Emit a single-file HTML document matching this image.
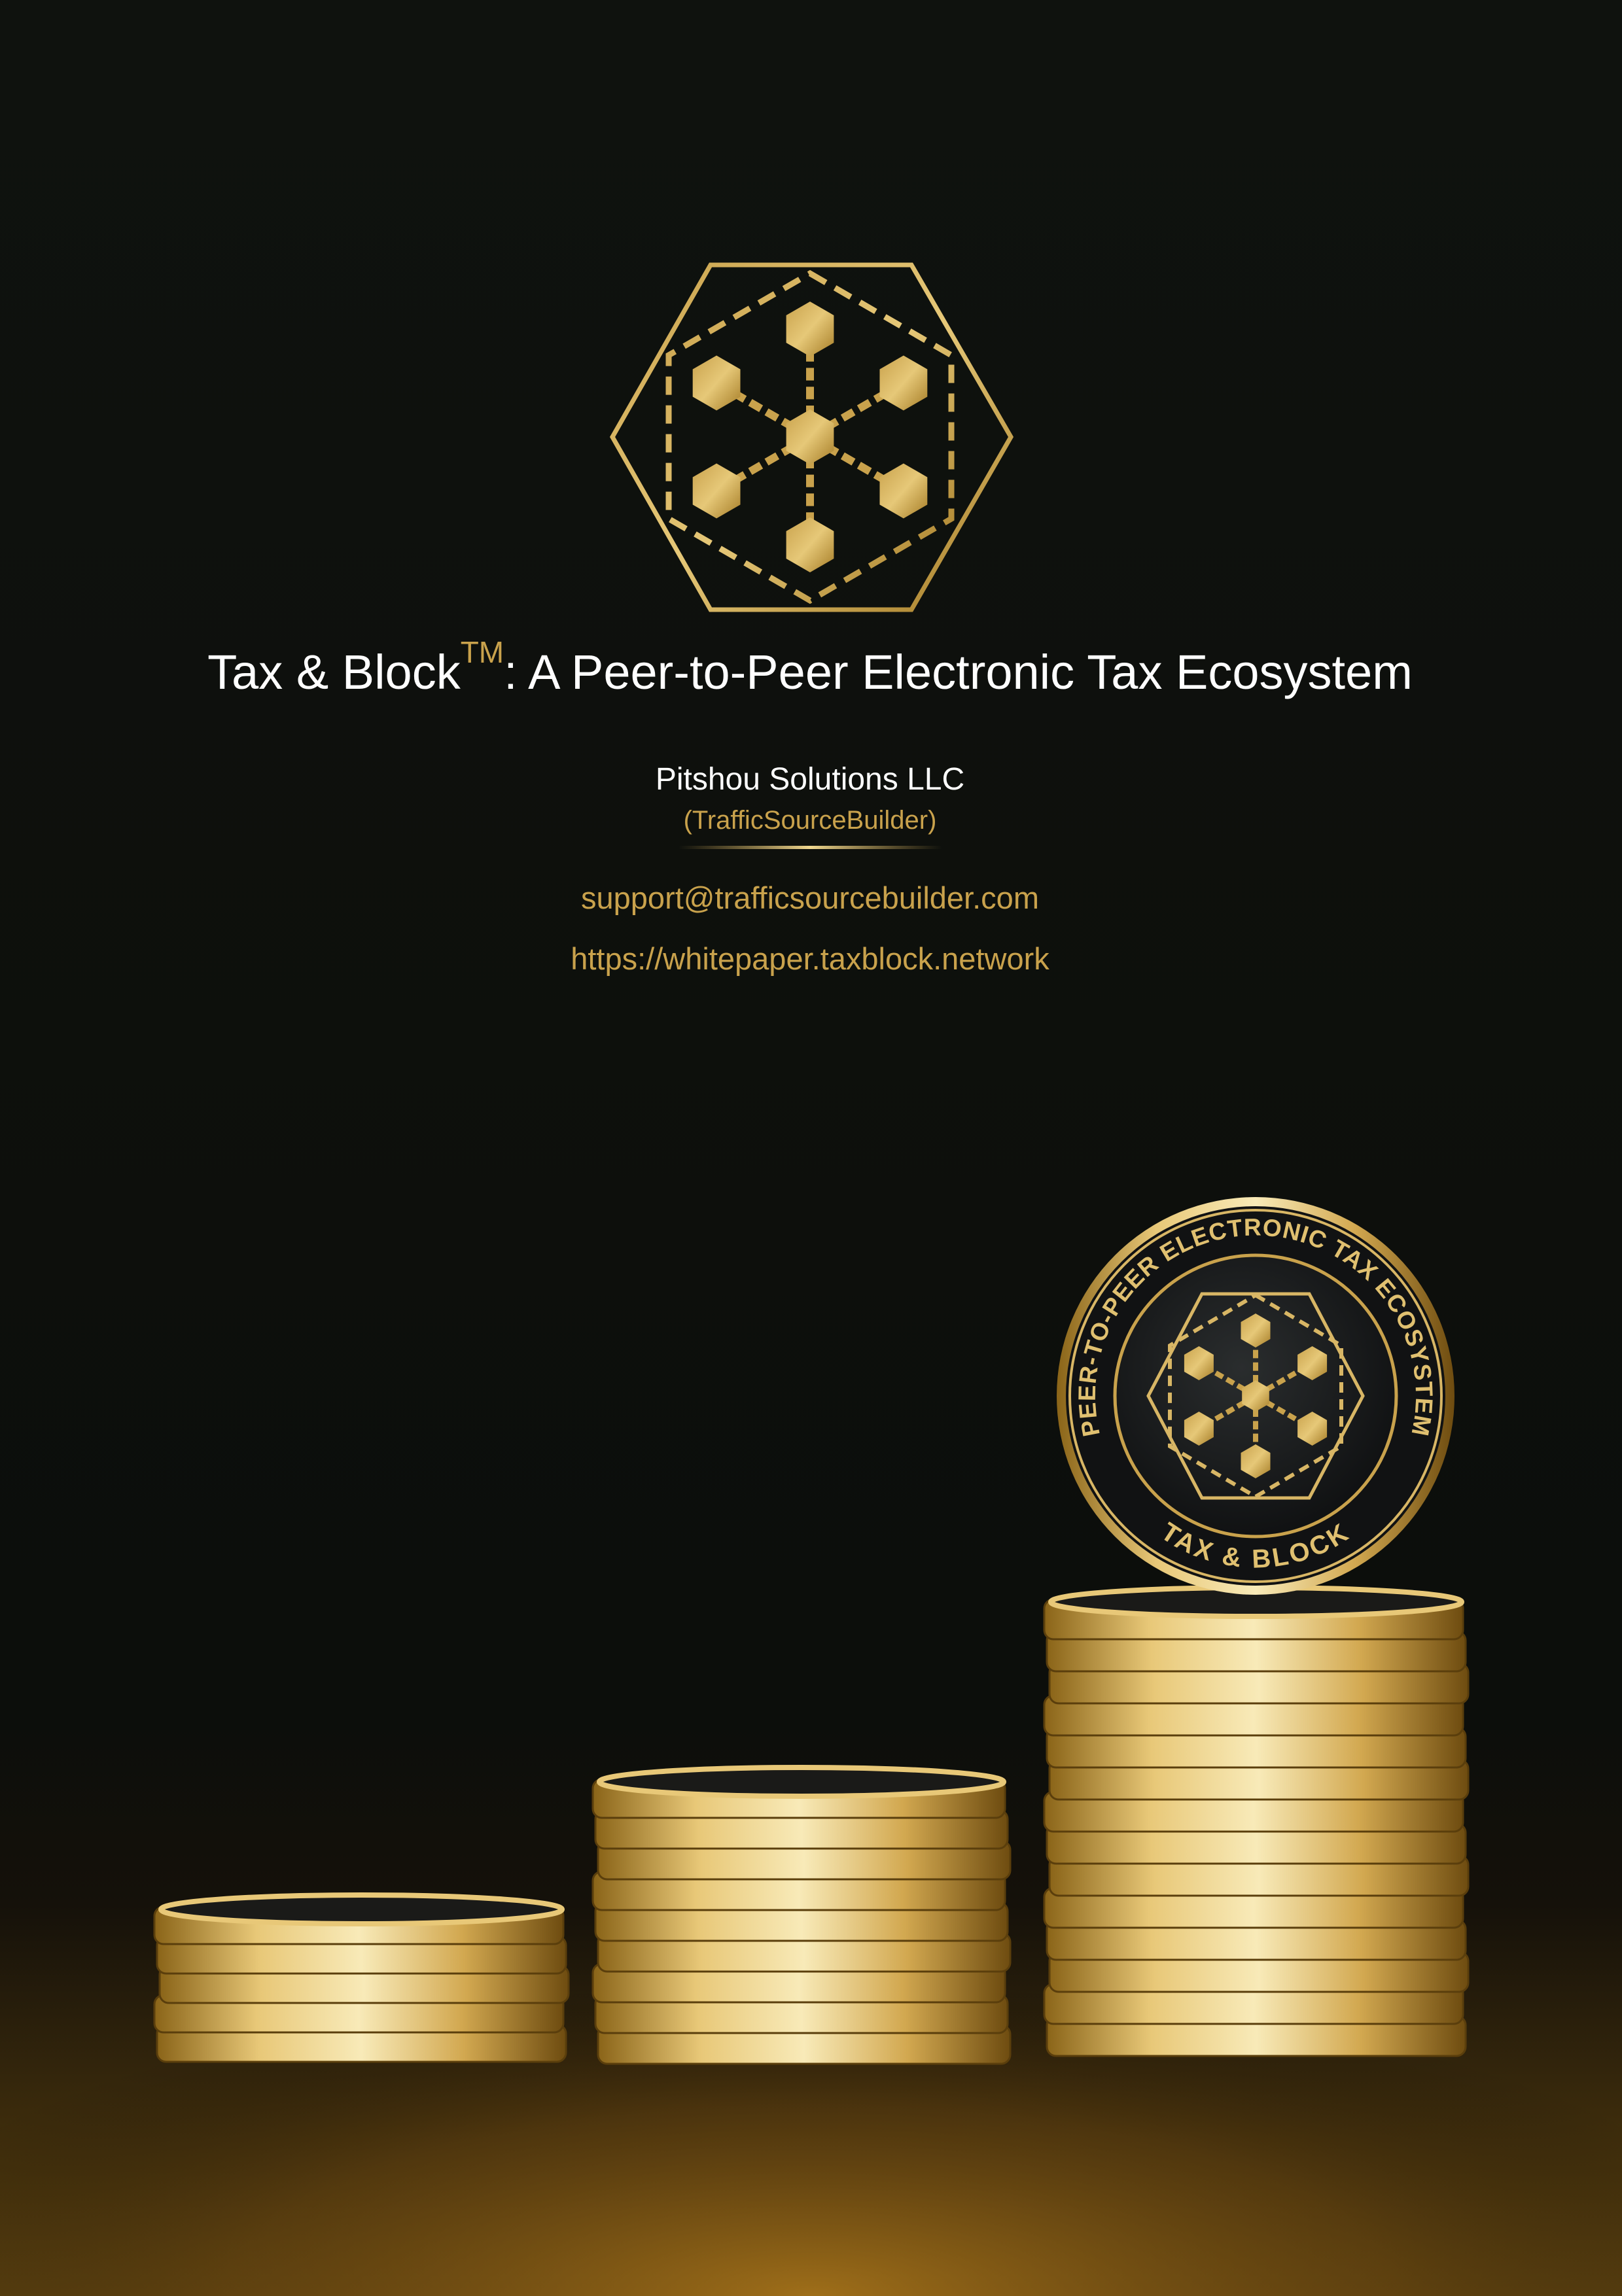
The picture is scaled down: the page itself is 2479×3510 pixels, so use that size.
<!DOCTYPE html>
<html><head><meta charset="utf-8"><style>
html,body{margin:0;padding:0;background:#0e100d;}
svg{display:block}
text{font-family:"Liberation Sans",sans-serif}
</style></head><body>
<svg id="s" width="2479" height="3510" viewBox="0 0 2479 3510" xmlns="http://www.w3.org/2000/svg">
<defs>
<linearGradient id="bg" x1="0" y1="0" x2="0" y2="1">
<stop offset="0" stop-color="#0f120e"/><stop offset="0.75" stop-color="#0c0e0b"/><stop offset="0.83" stop-color="#15110a"/><stop offset="0.92" stop-color="#3a2a0c"/><stop offset="1" stop-color="#5a400f"/>
</linearGradient>
<radialGradient id="glow" cx="0.5" cy="1" r="0.6">
<stop offset="0" stop-color="#b07a1c" stop-opacity="0.8"/><stop offset="0.6" stop-color="#6a4510" stop-opacity="0.35"/><stop offset="1" stop-color="#000" stop-opacity="0"/>
</radialGradient>
<linearGradient id="gold" x1="0" y1="0" x2="1" y2="0">
<stop offset="0" stop-color="#8a6418"/><stop offset="0.25" stop-color="#e8c878"/><stop offset="0.5" stop-color="#f8eab8"/><stop offset="0.75" stop-color="#d2a850"/><stop offset="1" stop-color="#6e4c10"/>
</linearGradient>
<linearGradient id="goldline" x1="0" y1="0" x2="1" y2="0">
<stop offset="0" stop-color="#c8a04a" stop-opacity="0"/><stop offset="0.5" stop-color="#f0d890"/><stop offset="1" stop-color="#c8a04a" stop-opacity="0"/>
</linearGradient>
<linearGradient id="lg" x1="0" y1="0" x2="1" y2="1">
<stop offset="0" stop-color="#c9a24c"/><stop offset="0.5" stop-color="#e6c878"/><stop offset="1" stop-color="#a57c26"/>
</linearGradient>
<radialGradient id="coinface" cx="0.45" cy="0.4" r="0.7">
<stop offset="0" stop-color="#2a2d2e"/><stop offset="1" stop-color="#0c0d0e"/>
</radialGradient>
<path id="arcTop" d="M 1689 2218 A 245 245 0 1 1 2149 2218"/>
<path id="arcBot" d="M 1730 2310 A 250 250 0 0 0 2108 2310"/>
</defs>
<rect width="2479" height="3510" fill="url(#bg)"/>
<rect x="0" y="2700" width="2479" height="810" fill="url(#glow)"/>

<g id="logo" fill="none" stroke="url(#lg)">
<polygon points="1086,405 1393,405 1545,668 1393,932 1086,932 936,668" stroke-width="7"/>
<polygon points="1238,418 1454,543 1454,793 1238,918 1022,793 1022,543" stroke-width="9" stroke-dasharray="28,16"/>
</g>
<g id="hexes" fill="url(#lg)"></g>

<text x="1238" y="1053" text-anchor="middle" font-size="74" fill="#ffffff">Tax &amp; Block<tspan font-size="46" dy="-40" fill="#c9a24c">TM</tspan><tspan dy="40">: A Peer-to-Peer Electronic Tax Ecosystem</tspan></text>
<text x="1238" y="1207" text-anchor="middle" font-size="48" fill="#ffffff">Pitshou Solutions LLC</text>
<text x="1238" y="1267" text-anchor="middle" font-size="40" fill="#c9a24c">(TrafficSourceBuilder)</text>
<rect x="1037" y="1293" width="403" height="5" fill="url(#goldline)"/>
<text x="1238" y="1389" text-anchor="middle" font-size="47" fill="#c9a24c">support@trafficsourcebuilder.com</text>
<text x="1238" y="1482" text-anchor="middle" font-size="47" fill="#c9a24c">https://whitepaper.taxblock.network</text>

<g id="stacks"></g>

<g>
<circle cx="1919" cy="2134" r="304" fill="url(#gold)"/>
<circle cx="1919" cy="2134" r="290" fill="#111213"/>
<circle cx="1919" cy="2134" r="284" fill="none" stroke="#d8b665" stroke-width="4"/>
<circle cx="1919" cy="2134" r="215" fill="url(#coinface)" stroke="#c9a24c" stroke-width="5"/>
<text font-size="37" font-weight="bold" fill="#e0c070" letter-spacing="1"><textPath href="#arcTop" startOffset="50%" text-anchor="middle">PEER-TO-PEER ELECTRONIC TAX ECOSYSTEM</textPath></text>
<text font-size="40" font-weight="bold" fill="#e0c070" letter-spacing="4"><textPath href="#arcBot" startOffset="50%" text-anchor="middle">TAX &amp; BLOCK</textPath></text>
<polygon points="1837,1978 2001,1978 2083,2134 2001,2290 1837,2290 1755,2134" fill="none" stroke="#d8b665" stroke-width="5"/>
<polygon points="1919,1980 2050,2057 2050,2211 1919,2288 1788,2211 1788,2057" fill="none" stroke="#d8b665" stroke-width="6" stroke-dasharray="16,10"/>
</g>
<g id="coinhex" fill="url(#lg)"></g>
</svg>
<script>
var NS="http://www.w3.org/2000/svg";
function hex(g,cx,cy,r,rot){var p=[];for(var i=0;i<6;i++){var a=(60*i+rot)*Math.PI/180;p.push((cx+r*Math.cos(a)).toFixed(1)+","+(cy+r*Math.sin(a)).toFixed(1));}
var e=document.createElementNS(NS,"polygon");e.setAttribute("points",p.join(" "));


g.appendChild(e);}
function network(id,cx,cy,R,r,c,sw){var g=document.getElementById(id);
for(var i=0;i<6;i++){var a=(-90+60*i)*Math.PI/180;
var l=document.createElementNS(NS,"line");l.setAttribute("x1",cx);l.setAttribute("y1",cy);l.setAttribute("x2",cx+R*Math.cos(a));l.setAttribute("y2",cy+R*Math.sin(a));l.setAttribute("stroke","#c9a24c");l.setAttribute("stroke-width",sw);l.setAttribute("stroke-dasharray",sw*1.6+","+sw*0.8);


g.appendChild(l);
hex(g,cx+R*Math.cos(a),cy+R*Math.sin(a),r,30);}
hex(g,cx,cy,c,30);}
network("hexes",1238,668,165,42,42,12);
network("coinhex",1919,2134,100,26,24,8);
var st=document.getElementById("stacks");
function stack(x,w,top,n,th){for(var i=n-1;i>=0;i--){var y=top+i*th;
var r=document.createElementNS(NS,"rect");r.setAttribute("x",x+(i%3)*4-4);r.setAttribute("y",y);r.setAttribute("width",w);r.setAttribute("height",th+12);r.setAttribute("rx",14);r.setAttribute("fill","url(#gold)");r.setAttribute("stroke","#5a3e0c");r.setAttribute("stroke-width",3);


st.appendChild(r);}
var e=document.createElementNS(NS,"ellipse");e.setAttribute("cx",x+w/2);e.setAttribute("cy",top+4);e.setAttribute("rx",w/2-6);e.setAttribute("ry",22);e.setAttribute("fill","#1a1a18");e.setAttribute("stroke","#e8c878");e.setAttribute("stroke-width",8);


st.appendChild(e);}
stack(240,625,2915,5,45);
stack(910,630,2720,9,47);
stack(1600,640,2445,14,49);
</script>
</body></html>
